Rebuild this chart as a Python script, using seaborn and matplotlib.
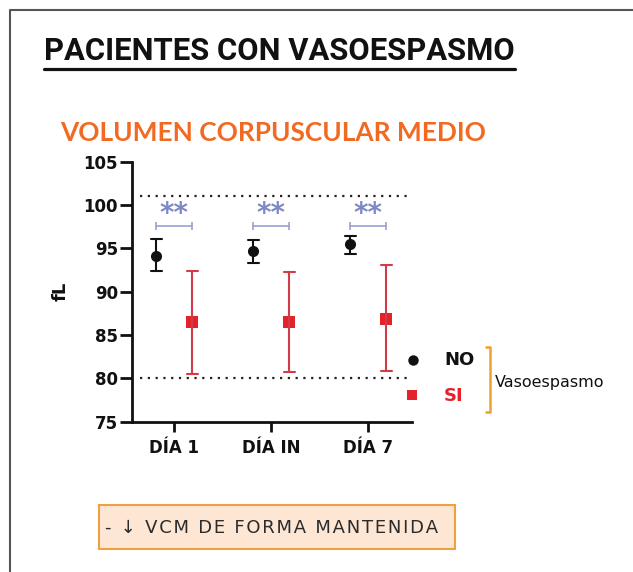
import numpy as np
import pandas as pd
import matplotlib
matplotlib.use("Agg")
import matplotlib.pyplot as plt
from matplotlib.lines import Line2D
from matplotlib.patches import Rectangle
import seaborn as sns

# ---- data ----
days = ["DÍA 1", "DÍA IN", "DÍA 7"]
groups = ["NO", "SI"]
no_mean = [94.15, 94.7, 95.45]
no_lo = [92.4, 93.35, 94.4]
no_hi = [96.05, 96.0, 96.45]
si_mean = [86.45, 86.55, 86.9]
si_lo = [80.45, 80.75, 80.85]
si_hi = [92.4, 92.25, 93.05]
ref_lines = [101, 80]
sig_labels = ["**", "**", "**"]
yticks = [75, 80, 85, 90, 95, 100, 105]

rows = []
for g, m, lo, hi in [("NO", no_mean, no_lo, no_hi), ("SI", si_mean, si_lo, si_hi)]:
    for d, a, b, c in zip(days, lo, m, hi):
        for v in (a, b, c):
            rows.append({"day": d, "group": g, "fL": v})
df = pd.DataFrame(rows)

sns.set_style("ticks")
plt.rcParams["font.family"] = ["DejaVu Sans"]

W, H = 633, 572
fig = plt.figure(figsize=(W / 100, H / 100), dpi=100)

def fx(px):
    return px / W

def fy(py):
    return 1 - py / H

ax = fig.add_axes([fx(131.7), fy(421.7), 280 / W, 260 / H])

DODGE = 0.372
sns.pointplot(data=df, x="day", y="fL", hue="group", order=days, hue_order=groups,
              estimator="median", errorbar=("pi", 100),
              palette={"NO": "#111111", "SI": "#e3222b"},
              markers=["o", "s"], linestyles="none", dodge=DODGE, capsize=0.113,
              err_kws={"linewidth": 1.5}, markersize=8, markeredgewidth=0,
              legend=False, ax=ax)

# recolor red error bars slightly lighter
for ln in ax.lines:
    if ln.get_marker() in (None, "None", "", " ") and matplotlib.colors.to_hex(ln.get_color()) == "#e3222b":
        ln.set_color("#d23c48")

ax.set_xlim(-0.439, 2.447)
ax.set_ylim(75, 105)
ax.set_yticks(yticks)
for y in ref_lines:
    ax.axhline(y, xmin=0.03, xmax=1.0, color="#222222", lw=1.6, ls=(0, (1, 2.5)), zorder=0)

# significance brackets and stars
for i, lab in enumerate(sig_labels):
    x0, x1 = i - DODGE / 2, i + DODGE / 2
    ax.plot([x0, x1], [97.6, 97.6], color="#9aa2d2", lw=1.2, marker="|", markersize=6,
            markeredgewidth=1.2)
    ax.text(i, 99.0, lab, ha="center", va="center", color="#7e88c6",
            fontsize=20, fontweight="bold")

sns.despine(ax=ax)
for s in ("left", "bottom"):
    ax.spines[s].set_linewidth(2)
    ax.spines[s].set_color("#111111")
ax.tick_params(axis="y", length=8.5, width=2, pad=1.5, labelsize=12, color="#111111")
ax.tick_params(axis="x", length=7.5, width=2, pad=5, labelsize=12, color="#111111")
for t in ax.get_xticklabels() + ax.get_yticklabels():
    t.set_fontweight("bold")
    t.set_color("#111111")
ax.set_xlabel("")
ax.set_ylabel("fL", fontsize=13, fontweight="bold", color="#111111")
ax.yaxis.set_label_coords(-0.22, 0.5)

# legend (manual)
fig.add_artist(Line2D([fx(413)], [fy(360)], marker="o", markersize=7.5, color="#111111",
                      markeredgewidth=0, transform=fig.transFigure, ls="none"))
fig.add_artist(Line2D([fx(412)], [fy(395)], marker="s", markersize=7, color="#e3222b",
                      markeredgewidth=0, transform=fig.transFigure, ls="none"))
fig.text(fx(444), fy(360), "NO", fontsize=13, fontweight="bold", color="#111111", va="center")
fig.text(fx(444), fy(396), "SI", fontsize=13, fontweight="bold", color="#e3222b", va="center")
bx = 490
fig.add_artist(Line2D([fx(bx - 4), fx(bx), fx(bx), fx(bx - 4)],
                      [fy(347), fy(347), fy(412), fy(412)], color="#f0a030", lw=1.8,
                      transform=fig.transFigure))
fig.text(fx(495), fy(383), "Vasoespasmo", fontsize=11.5, color="#111111", va="center")

# titles
t1 = fig.text(fx(44), fy(51), "PACIENTES CON VASOESPASMO", fontsize=22.3, fontweight="bold",
              family=["Roboto", "DejaVu Sans"], color="#111111", va="center")
fig.text(fx(60), fy(133), "VOLUMEN CORPUSCULAR MEDIO", fontsize=18.9, fontweight="bold",
         family=["Lato", "DejaVu Sans"], color="#f26a21", va="center")

fig.canvas.draw()
bb = t1.get_window_extent()
fig.add_artist(Line2D([bb.x0 / W, bb.x1 / W], [fy(68.5), fy(68.5)], color="#111111", lw=2.3,
                      transform=fig.transFigure))

# bottom box
fig.add_artist(Rectangle((fx(99), fy(549)), (455 - 99) / W, (549 - 505) / H,
                         facecolor="#fde6d4", edgecolor="#f0a040", lw=1.5,
                         transform=fig.transFigure))
note = "\u200a".join("- ↓ VCM DE FORMA MANTENIDA")
fig.text(fx(272), fy(528), note, fontsize=13, color="#2b2b2b",
         ha="center", va="center")

# outer frame
fig.add_artist(Line2D([fx(10), fx(10), 1.0], [0.0, fy(10), fy(10)], color="#555555", lw=1.5,
                      transform=fig.transFigure))

fig.savefig("out.png", dpi=100)
